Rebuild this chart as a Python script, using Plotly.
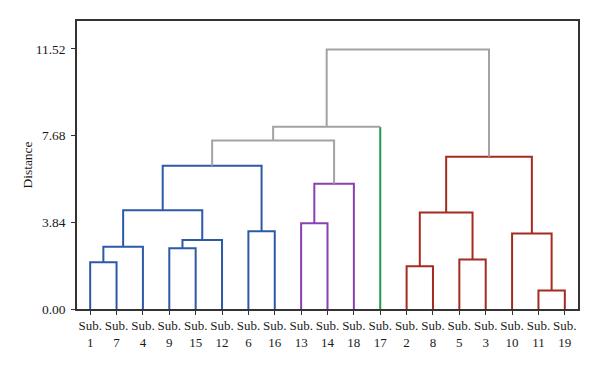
import plotly.graph_objects as go

# ---- data ----
leaf_order = ["1", "7", "4", "9", "15", "12", "6", "16", "13", "14", "18",
              "17", "2", "8", "5", "3", "10", "11", "19"]
leaf_cluster = ["blue", "blue", "blue", "blue", "blue", "blue", "blue", "blue",
                "purple", "purple", "purple", "green", "red", "red", "red",
                "red", "red", "red", "red"]
# merges: name, left child, right child, height, link colour
merge_names = ["A", "B", "C", "D", "E", "F", "G", "H", "I", "J", "K",
               "L", "M", "N", "O", "P", "Q", "R"]
merge_left = ["1", "A", "9", "C", "B", "6", "E", "13", "H", "G", "J",
              "2", "5", "L", "11", "10", "N", "K"]
merge_right = ["7", "4", "15", "12", "D", "16", "F", "14", "18", "I", "17",
               "8", "3", "M", "19", "O", "P", "Q"]
merge_height = [2.07, 2.76, 2.69, 3.06, 4.37, 3.44, 6.35, 3.80, 5.55, 7.47, 8.07,
                1.89, 2.19, 4.28, 0.82, 3.35, 6.75, 11.50]
merge_color = ["blue", "blue", "blue", "blue", "blue", "blue", "blue", "purple",
               "purple", "gray", "gray", "red", "red", "red", "red", "red", "red",
               "gray"]
y_ticks = [0.00, 3.84, 7.68, 11.52]

palette = {"blue": "#2c5aa8", "purple": "#8b3fb0", "green": "#1f9a50",
           "red": "#a52b20", "gray": "#a3a3a3"}

# ---- compute positions ----
xpos, ypos, col = {}, {}, {}
for i, (lf, c) in enumerate(zip(leaf_order, leaf_cluster)):
    xpos[lf] = 5 + 10 * i
    ypos[lf] = 0.0
    col[lf] = c
for nm, l, r, h in zip(merge_names, merge_left, merge_right, merge_height):
    xpos[nm] = (xpos[l] + xpos[r]) / 2
    ypos[nm] = h

segs = {k: ([], []) for k in palette}


def add(color, xs, ys):
    segs[color][0].extend(xs + [None])
    segs[color][1].extend(ys + [None])


for nm, l, r, h, c in zip(merge_names, merge_left, merge_right, merge_height, merge_color):
    lc = col[l] if l in leaf_order else c
    rc = col[r] if r in leaf_order else c
    xl, xr = xpos[l], xpos[r]
    if lc == c and rc == c:
        add(c, [xl, xl, xr, xr], [ypos[l], h, h, ypos[r]])
    elif lc == c:
        add(c, [xl, xl, xr], [ypos[l], h, h])
        add(rc, [xr, xr], [h, ypos[r]])
    elif rc == c:
        add(lc, [xl, xl], [ypos[l], h])
        add(c, [xl, xr, xr], [h, h, ypos[r]])
    else:
        add(lc, [xl, xl], [ypos[l], h])
        add(c, [xl, xr], [h, h])
        add(rc, [xr, xr], [h, ypos[r]])

fig = go.Figure()
for k, (xs, ys) in segs.items():
    if xs:
        fig.add_trace(go.Scatter(x=xs, y=ys, mode="lines",
                                 line=dict(color=palette[k], width=2),
                                 hoverinfo="skip", showlegend=False))

font_family = "Liberation Serif, Times New Roman, serif"
fig.update_layout(
    width=600, height=365,
    margin=dict(l=69, r=30, t=13, b=64),
    paper_bgcolor="white", plot_bgcolor="white",
    font=dict(family=font_family, size=13, color="#1a1a1a"),
    showlegend=False,
)
fig.update_xaxes(
    range=[0, 190],
    tickvals=[xpos[lf] for lf in leaf_order],
    ticktext=[f"Sub.<br>{lf}" for lf in leaf_order],
    ticks="outside", ticklen=4, tickcolor="#333",
    tickangle=0,
    showline=True, linecolor="#333", linewidth=1.5, mirror=True,
    showgrid=False, zeroline=False,
    tickfont=dict(size=13),
)
fig.update_yaxes(
    range=[0, 12.76],
    tickvals=y_ticks,
    ticktext=[f"{v:.2f}" for v in y_ticks],
    ticks="outside", ticklen=4, tickcolor="#333",
    ticklabelstandoff=3,
    showline=True, linecolor="#333", linewidth=1.5, mirror=True,
    showgrid=False, zeroline=False,
    title=dict(text="Distance", font=dict(size=13.5), standoff=0),
    tickfont=dict(size=13.5),
)

fig.write_html("out.html")
